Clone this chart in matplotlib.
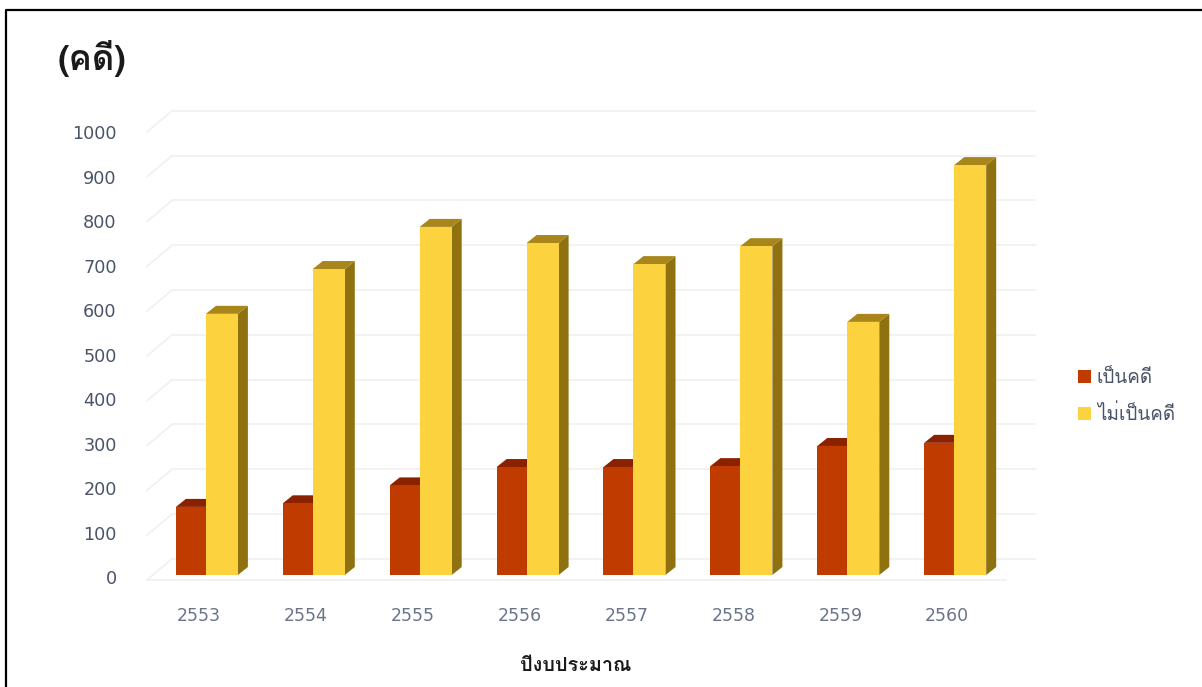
import matplotlib
matplotlib.use('Agg')
import matplotlib.pyplot as plt
from matplotlib import font_manager as fm
from matplotlib.patches import Polygon, Patch, Rectangle
from matplotlib.ft2font import FT2Font

years = ['2553', '2554', '2555', '2556', '2557', '2558', '2559', '2560']
pen_khadi = [152, 160, 200, 241, 241, 243, 288, 295]
mai_pen_khadi = [583, 683, 777, 741, 694, 734, 565, 915]
y_ticks = [0, 100, 200, 300, 400, 500, 600, 700, 800, 900, 1000]

# look for an installed font that has thai glyphs
thai_font = None
for f in fm.fontManager.ttflist:
    try:
        if 0x0E04 in FT2Font(f.fname).get_charmap():
            thai_font = f.name
            break
    except Exception:
        pass
families = ([thai_font] if thai_font else []) + ['DejaVu Sans']
plt.rcParams['font.family'] = families

fig = plt.figure(figsize=(12.02, 6.87), dpi=100)
ax = fig.add_axes([0, 0, 1, 1])
ax.set_xlim(-1.936, 9.308)
ax.set_ylim(-250, 1283.5)
ax.axis('off')

# depth of the fake 3d, in data units
dx = 10 / 106.9
dy = 8 / 0.448
wall_x0, wall_x1, floor_x1 = -0.561, -0.327, 7.75
grid_col = '#efefef'


def bar3d(x0, x1, val, front, top, side):
    ax.add_patch(Polygon([(x1, 0), (x1 + dx, dy), (x1 + dx, val + dy), (x1, val)], fc=side, ec='none', zorder=3))
    ax.add_patch(Polygon([(x0, val), (x0 + dx, val + dy), (x1 + dx, val + dy), (x1, val)], fc=top, ec='none', zorder=3))
    ax.add_patch(Rectangle((x0, 0), x1 - x0, val, fc=front, ec='none', zorder=3))


for v in y_ticks:
    yf = v - 11
    yb = v + 36
    ax.plot([wall_x0, wall_x1], [yf, yb], color=grid_col, lw=1.1, zorder=1)
    ax.plot([wall_x1, floor_x1], [yb, yb], color=grid_col, lw=1.1, zorder=1)
    ax.text(-0.845, v * 0.9933 - 9, str(v), ha='right', va='center', fontsize=12.7, color='#4a5468', family='DejaVu Sans')
ax.plot([wall_x0, floor_x1 - 0.28], [-11, -11], color=grid_col, lw=1.1, zorder=1)

w_red = 30 / 106.9
w_yel = 32 / 106.9
for i in range(len(years)):
    x0 = i - w_red - 0.01
    xm = i - 0.01
    bar3d(x0, xm, pen_khadi[i], '#bf3b00', '#8a2200', '#8a2200')
    bar3d(xm, xm + w_yel, mai_pen_khadi[i], '#fdd23f', '#a9861c', '#8f7110')
    ax.text(i - 0.075, -92, years[i], ha='center', va='center', fontsize=12.5, color='#6a7488', family='DejaVu Sans')

ax.text(0.048, 0.915, '(คดี)', transform=ax.transAxes, fontsize=25, fontweight='bold', color='#1a1a1a', va='center', ha='left')
ax.text(3.45, -202, 'ปีงบประมาณ', fontsize=14.3, fontweight='bold', color='#1a1a1a', ha='center', va='center')

handles = [Patch(fc='#bf3b00', label='เป็นคดี'), Patch(fc='#fdd23f', label='ไม่เป็นคดี')]
ax.legend(handles=handles, loc='center left', bbox_to_anchor=(1078 / 1202, 1 - 396.5 / 687), frameon=False,
          fontsize=13.6, handlelength=0.7, handleheight=0.7, handletextpad=0.3, labelspacing=0.91, labelcolor='#4a5468', borderpad=0, borderaxespad=0)

# black frame, only left and top show in the picture
fig.add_artist(plt.Line2D([6 / 1202, 6 / 1202, 1], [0, 1 - 10 / 687, 1 - 10 / 687], color='black', lw=1.6))

fig.savefig('out.png', dpi=100)
